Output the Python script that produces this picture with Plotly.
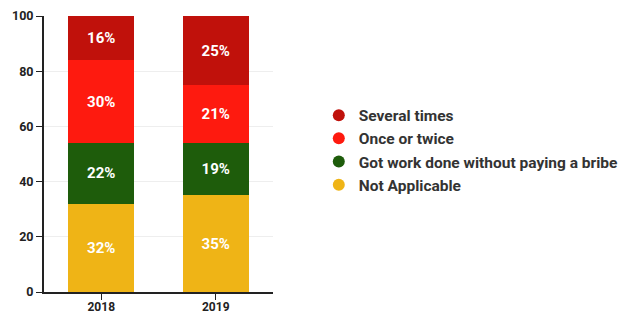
import plotly.graph_objects as go

years = ["2018", "2019"]
not_applicable = [32, 35]
no_bribe = [22, 19]
once_twice = [30, 21]
several = [16, 25]

series = [
    ("Not Applicable", not_applicable, "#efb416"),
    ("Got work done without paying a bribe", no_bribe, "#1e5c0b"),
    ("Once or twice", once_twice, "#fe1a0f"),
    ("Several times", several, "#c0110b"),
]

fig = go.Figure()
for name, vals, color in series:
    fig.add_trace(go.Bar(
        x=years, y=vals, name=name, marker_color=color, marker_line_width=0,
        text=[f"{v}%" for v in vals], textposition="inside", insidetextanchor="middle",
        textfont=dict(family="Roboto", size=15, color="white", weight="bold"),
        showlegend=False, width=0.58,
    ))
for name, vals, color in reversed(series):
    fig.add_trace(go.Scatter(
        x=[None], y=[None], mode="markers", name=name,
        marker=dict(symbol="circle", size=15, color=color),
    ))

fig.update_layout(
    barmode="stack",
    width=628, height=311,
    margin=dict(l=36, r=363, t=8, b=27, autoexpand=False),
    plot_bgcolor="white", paper_bgcolor="white",
    font=dict(family="Roboto", color="#222222"),
    legend=dict(x=1.2, y=0.514, xanchor="left", yanchor="middle", traceorder="normal",
                font=dict(family="Roboto", size=15.5, color="#333333", weight="bold"),
                itemsizing="constant", tracegroupgap=0, itemwidth=30),
    uniformtext=dict(minsize=8, mode="show"),
)
fig.update_xaxes(type="category", range=[-0.5, 1.5], showline=True, linecolor="#222222",
                 linewidth=2, ticks="outside", ticklen=6, tickcolor="#222222", automargin=False,
                 ticklabelstandoff=-3,
                 tickfont=dict(size=12, weight="bold", color="#222222"), showgrid=False)
fig.update_yaxes(range=[0, 100], tickvals=[0, 20, 40, 60, 80, 100], showline=True,
                 linecolor="#222222", linewidth=2, ticks="outside", ticklen=6, automargin=False,
                 tickcolor="#222222", showgrid=True, gridcolor="#eeeeee",
                 tickfont=dict(size=12.5, weight="bold", color="#222222"), zeroline=False)

fig.write_html("out.html")
